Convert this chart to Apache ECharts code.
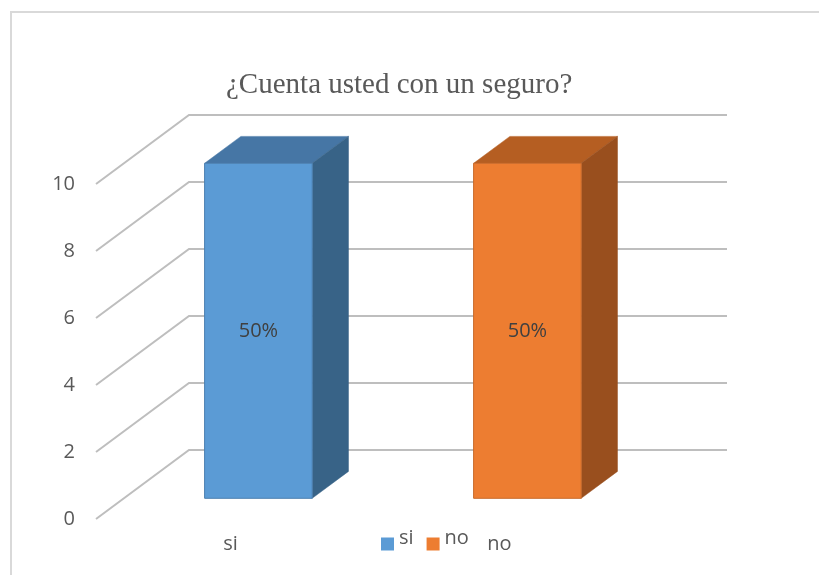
<!DOCTYPE html>
<html>
<head>
<meta charset="utf-8">
<script src="https://cdn.jsdelivr.net/npm/echarts@6/dist/echarts.min.js"></script>
<style>
  html, body { margin: 0; padding: 0; background: #ffffff; }
  #chart { width: 819px; height: 575px; }
</style>
</head>
<body>
<div id="chart"></div>
<script>
// ---- data ----
const titleText = '¿Cuenta usted con un seguro?';
const categories = ['si', 'no'];
const values = [10, 10];
const valueLabels = ['50%', '50%'];
const seriesNames = ['si', 'no'];
const yTicks = [0, 2, 4, 6, 8, 10];

// ---- styling / geometry ----
const DEPTH = [93, -69];           // floor depth vector (front plane -> back wall)
const BAR_FRONT = 0.30, BAR_BACK = 0.69, BAR_W = 0.40;
const palette = [
  { front: '#5B9BD5', top: '#4676A5', side: '#386387', edge: '#4a7fb0' },
  { front: '#ED7D31', top: '#B55E22', side: '#994F1E', edge: '#c86a2a' }
];
const gridColor = '#BEBEBE';
const font = '"Open Sans", "Liberation Sans", sans-serif';

const chart = echarts.init(document.getElementById('chart'), null, { renderer: 'canvas' });

function shift(p, t) { return [p[0] + DEPTH[0] * t, p[1] + DEPTH[1] * t]; }

function gridRender(params, api) {
  const cs = params.coordSys;
  const y = api.coord([0, api.value(1)])[1];
  const L = cs.x, R = cs.x + cs.width;
  return {
    type: 'polyline',
    shape: { points: [[L, y], shift([L, y], 1), shift([R, y], 1)] },
    style: { stroke: gridColor, lineWidth: 2, fill: null },
    silent: true
  };
}

function makeBarRender(colors) {
  return function (params, api) {
    const ci = api.value(0), v = api.value(1);
    const base = api.coord([ci, 0]);
    const top = api.coord([ci, v]);
    const bw = api.size([1, 0])[0] * BAR_W;
    const xl = base[0] - bw / 2, xr = base[0] + bw / 2;
    const fBL = shift([xl, base[1]], BAR_FRONT), fBR = shift([xr, base[1]], BAR_FRONT);
    const fTL = shift([xl, top[1]], BAR_FRONT), fTR = shift([xr, top[1]], BAR_FRONT);
    const bBR = shift([xr, base[1]], BAR_BACK);
    const bTL = shift([xl, top[1]], BAR_BACK), bTR = shift([xr, top[1]], BAR_BACK);
    return {
      type: 'group',
      children: [
        { type: 'polygon', shape: { points: [fTL, fTR, bTR, bTL] },
          style: { fill: colors.top, stroke: colors.top, lineWidth: 0.5 } },
        { type: 'polygon', shape: { points: [fTR, fBR, bBR, bTR] },
          style: { fill: colors.side, stroke: colors.side, lineWidth: 0.5 } },
        { type: 'polygon', shape: { points: [fTL, fTR, fBR, fBL] },
          style: { fill: colors.front, stroke: colors.edge, lineWidth: 1 } },
        { type: 'text',
          style: { text: api.value(2), x: (fTL[0] + fTR[0]) / 2, y: (fTL[1] + fBL[1]) / 2,
                   align: 'center', verticalAlign: 'middle',
                   font: '20px ' + font, fill: '#404040' } }
      ]
    };
  };
}

const series = [
  {
    type: 'custom', name: '_grid', silent: true, clip: false, z: 1,
    renderItem: gridRender,
    encode: { x: 0, y: 1 },
    data: yTicks.map(t => [0, t])
  }
];
categories.forEach((c, i) => {
  series.push({
    type: 'custom', name: seriesNames[i], clip: false, z: 2,
    itemStyle: { color: palette[i].front },
    renderItem: makeBarRender(palette[i]),
    encode: { x: 0, y: 1 },
    data: [[i, values[i], valueLabels[i]]]
  });
});

chart.setOption({
  animation: false,
  backgroundColor: '#ffffff',
  title: {
    text: titleText, left: 221, top: 66,
    textStyle: { fontFamily: '"Liberation Serif", "Times New Roman", serif',
                 fontSize: 29, fontWeight: 'normal', color: '#595959' }
  },
  legend: {
    data: seriesNames, left: 376, top: 523,
    icon: 'rect', itemWidth: 13, itemHeight: 13, itemGap: 13,
    formatter: '{t|{name}}',
    textStyle: {
      rich: { t: { fontFamily: font, fontSize: 20, color: '#595959', padding: [0, 0, 12, 0] } }
    }
  },
  grid: { left: 96, right: 185, top: 184, bottom: 56, containLabel: false },
  xAxis: {
    type: 'category', data: categories,
    axisLine: { show: false }, axisTick: { show: false }, splitLine: { show: false },
    axisLabel: { fontFamily: font, fontSize: 20, color: '#595959', margin: 15 }
  },
  yAxis: {
    type: 'value', min: 0, max: 10, interval: 2,
    axisLine: { show: false }, axisTick: { show: false }, splitLine: { show: false },
    axisLabel: { fontFamily: font, fontSize: 20, color: '#595959', margin: 21 }
  },
  graphic: [
    { type: 'rect', shape: { x: 11, y: 12, width: 900, height: 700 },
      style: { fill: null, stroke: '#D9D9D9', lineWidth: 2 }, z: -1 }
  ],
  series: series
});
</script>
</body>
</html>
